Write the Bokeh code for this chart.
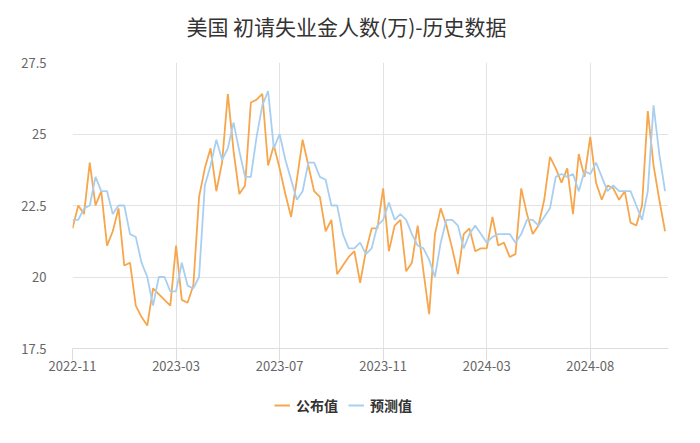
from bokeh.plotting import figure
from bokeh.layouts import column
from bokeh.models import FixedTicker, Legend, LegendItem, Label, ColumnDataSource
from bokeh.embed import file_html
from bokeh.resources import INLINE

# 公布值 (actual), weekly, in 万
actual = [21.7, 22.5, 22.2, 24.0, 22.5, 23.0, 21.1, 21.6, 22.4, 20.4,
          20.5, 19.0, 18.6, 18.3, 19.6, 19.4, 19.2, 19.0, 21.1, 19.2,
          19.1, 19.7, 22.8, 23.8, 24.5, 23.0, 24.0, 26.4, 24.4, 22.9,
          23.2, 26.1, 26.2, 26.4, 23.9, 24.6, 23.8, 22.9, 22.1, 23.4,
          24.8, 23.9, 23.0, 22.8, 21.6, 22.0, 20.1, 20.4, 20.7, 20.9,
          19.8, 20.9, 21.7, 21.7, 23.1, 20.9, 21.8, 22.0, 20.2, 20.5,
          21.8, 20.2, 18.7, 21.5, 22.4, 21.8, 21.0, 20.1, 21.5, 21.7,
          20.9, 21.0, 21.0, 22.1, 21.1, 21.2, 20.7, 20.8, 23.1, 22.2,
          21.5, 21.8, 22.7, 24.2, 23.8, 23.3, 23.8, 22.2, 24.3, 23.5,
          24.9, 23.3, 22.7, 23.2, 23.1, 22.7, 23.0, 21.9, 21.8, 22.5,
          25.8, 23.9, 22.7, 21.6]

# 预测值 (forecast)
forecast = [22.0, 22.0, 22.4, 22.5, 23.5, 23.0, 23.0, 22.2, 22.5, 22.5,
            21.5, 21.4, 20.5, 20.0, 19.0, 20.0, 20.0, 19.5, 19.5, 20.5,
            19.7, 19.6, 20.0, 23.2, 23.9, 24.8, 24.1, 24.5, 25.4, 24.4,
            23.5, 23.5, 24.9, 26.0, 26.5, 24.5, 25.0, 24.1, 23.4, 22.7,
            23.0, 24.0, 24.0, 23.5, 23.4, 22.5, 22.5, 21.5, 21.0, 21.0,
            21.2, 20.8, 21.0, 21.8, 22.0, 22.6, 22.0, 22.2, 22.0, 21.5,
            21.1, 21.0, 20.6, 20.0, 21.2, 22.0, 22.0, 21.8, 21.0, 21.5,
            21.8, 21.5, 21.2, 21.4, 21.5, 21.5, 21.5, 21.2, 21.5, 22.0,
            22.0, 21.8, 22.1, 22.4, 23.5, 23.6, 23.5, 23.6, 23.0, 23.7,
            23.6, 24.0, 23.5, 23.0, 23.2, 23.0, 23.0, 23.0, 22.5, 22.0,
            23.0, 26.0, 24.3, 23.0]

title_text = "美国 初请失业金人数(万)-历史数据"
series_names = ["公布值", "预测值"]
tick_labels = ["2022-11", "2023-03", "2023-07", "2023-11", "2024-03", "2024-08"]
label_step = 18
y_ticks = [17.5, 20, 22.5, 25, 27.5]

idx = list(range(len(actual)))
src = ColumnDataSource(dict(x=idx, actual=actual, forecast=forecast))

x_tick_pos = [i * label_step for i in range(len(tick_labels))]

FONT = "Noto Sans CJK SC"
C_ACT = "#f6a64c"
C_FC = "#a9cff0"
W = 684
BL, BR = 72, 16


def strip(height):
    f = figure(width=W, height=height, output_backend="svg", toolbar_location=None,
               x_range=(0, 1), y_range=(0, 1), x_axis_location=None,
               y_axis_location=None, min_border_left=BL, min_border_right=BR,
               min_border_top=0, min_border_bottom=0)
    f.outline_line_color = None
    f.grid.visible = False
    f.border_fill_color = "white"
    return f


# header strip with the title
hd = strip(52)
hd.add_layout(Label(x=274, y=27, x_units="screen", y_units="screen",
                    text=title_text, text_align="center", text_baseline="middle",
                    text_font=FONT, text_font_size="21px", text_color="#333333"))

# main chart
p = figure(width=W, height=332, output_backend="svg", toolbar_location=None,
           x_range=(0, len(actual) - 0.4), y_range=(y_ticks[0], y_ticks[-1]),
           min_border_left=BL, min_border_right=BR, min_border_top=10,
           min_border_bottom=36)
p.outline_line_color = None
p.background_fill_color = "white"
p.border_fill_color = "white"

p.line("x", "actual", source=src, line_color=C_ACT, line_width=1.8)
p.line("x", "forecast", source=src, line_color=C_FC, line_width=1.8)

p.xaxis.ticker = FixedTicker(ticks=x_tick_pos)
p.xaxis.major_label_overrides = {pos: lab for pos, lab in zip(x_tick_pos, tick_labels)}
p.yaxis.ticker = FixedTicker(ticks=y_ticks)
p.yaxis.major_label_overrides = {t: ("%g" % t) for t in y_ticks}

for ax in (p.xaxis, p.yaxis):
    ax.major_label_text_font = FONT
    ax.major_label_text_font_size = "13px"
    ax.major_label_text_color = "#666666"
    ax.minor_tick_line_color = None

p.yaxis.axis_line_color = None
p.yaxis.major_tick_line_color = None
p.yaxis.major_label_standoff = 20

p.xaxis.axis_line_color = "#dddddd"
p.xaxis.major_tick_line_color = "#dddddd"
p.xaxis.major_tick_out = 12
p.xaxis.major_tick_in = 0
p.xaxis.major_label_standoff = 0

p.xgrid.ticker = FixedTicker(ticks=x_tick_pos)
p.ygrid.ticker = FixedTicker(ticks=y_ticks)
p.xgrid.grid_line_color = "#e3e3e3"
p.ygrid.grid_line_color = "#e3e3e3"

# legend strip below the chart (swatch renderers sit outside the visible range)
lg = strip(43)
d1 = lg.line(x=[-3, -2], y=[-3, -2], line_color=C_ACT, line_width=2)
d2 = lg.line(x=[-3, -2], y=[-3, -2], line_color=C_FC, line_width=2)
legend = Legend(items=[LegendItem(label=series_names[0], renderers=[d1]),
                       LegendItem(label=series_names[1], renderers=[d2])],
                orientation="horizontal", location=(202, 12),
                label_text_font=FONT, label_text_font_size="14px",
                label_text_font_style="bold", label_text_color="#333333",
                glyph_width=16, glyph_height=14, spacing=10, padding=4,
                margin=0, border_line_color=None, background_fill_alpha=0,
                label_standoff=6)
lg.add_layout(legend, "center")

layout = column(hd, p, lg, spacing=0)
open("out.html", "w").write(file_html(layout, INLINE))
